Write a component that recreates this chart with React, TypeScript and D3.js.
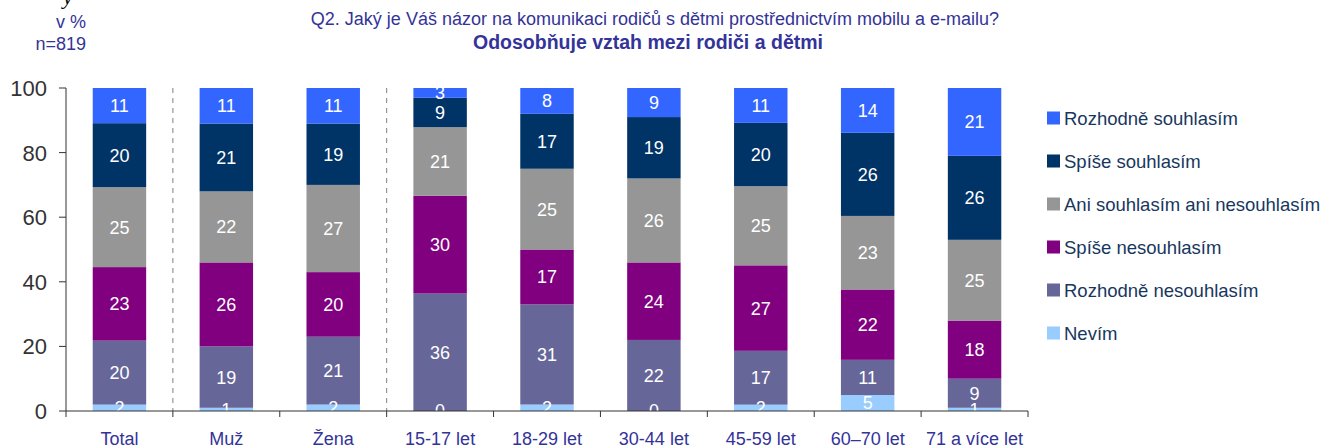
import React from "react";
import * as d3 from "d3";

const categories = ["Total", "Muž", "Žena", "15-17 let", "18-29 let", "30-44 let", "45-59 let", "60–70 let", "71 a více let"];
const seriesNames = ["Nevím", "Rozhodně nesouhlasím", "Spíše nesouhlasím", "Ani souhlasím ani nesouhlasím", "Spíše souhlasím", "Rozhodně souhlasím"];
const nevim = [2, 1, 2, 0, 2, 0, 2, 5, 1];
const rozhodneNesouhlasim = [20, 19, 21, 36, 31, 22, 17, 11, 9];
const spiseNesouhlasim = [23, 26, 20, 30, 17, 24, 27, 22, 18];
const ani = [25, 22, 27, 21, 25, 26, 25, 23, 25];
const spiseSouhlasim = [20, 21, 19, 9, 17, 19, 20, 26, 26];
const rozhodneSouhlasim = [11, 11, 11, 3, 8, 9, 11, 14, 21];
const yTicks = [0, 20, 40, 60, 80, 100];
const colors = ["#99CCFF", "#666699", "#800080", "#969696", "#003366", "#3366FF"];

const W = 1325, H = 448;
const X0 = 66, X1 = 1028, Y0 = 411, Y1 = 88;

export default function App() {
  const seriesVals = [nevim, rozhodneNesouhlasim, spiseNesouhlasim, ani, spiseSouhlasim, rozhodneSouhlasim];
  const rows = categories.map((c, i) => {
    const r: any = { cat: c };
    seriesNames.forEach((s, k) => (r[s] = seriesVals[k][i]));
    return r;
  });
  const stack = d3.stack<any>().keys(seriesNames).offset(d3.stackOffsetExpand);
  const stacked = stack(rows);
  const x = d3.scaleBand().domain(categories).range([X0, X1]).paddingInner(0.5).paddingOuter(0.25);
  const y = d3.scaleLinear().domain([0, 1]).range([Y0, Y1]);
  const yAx = d3.scaleLinear().domain([0, 100]).range([Y0, Y1]);
  const step = x.step();
  const boundaries = d3.range(categories.length + 1).map((i) => X0 + i * step);
  const font = "'Liberation Sans', Arial, sans-serif";
  const legendY = [118, 161, 204, 247, 290, 333];
  const legendOrder = [5, 4, 3, 2, 1, 0];

  return (
    <svg width={W} height={H} style={{ position: "absolute", left: 0, top: 0 }} fontFamily={font}>
      <defs>
        <clipPath id="plot">
          <rect x={X0} y={Y1 - 5} width={X1 - X0} height={Y0 - Y1 + 5} />
        </clipPath>
      </defs>
      <rect width={W} height={H} fill="#fff" />
      <text x={63} y={4} fontFamily="serif" fontStyle="italic" fontSize={22} fill="#000">y</text>
      <text x={86} y={28} textAnchor="end" fontSize={18} fill="#333399">v %</text>
      <text x={86} y={50} textAnchor="end" fontSize={18} fill="#333399">n=819</text>
      <text x={655} y={25} textAnchor="middle" fontSize={18} fill="#333399">
        Q2. Jaký je Váš názor na komunikaci rodičů s dětmi prostřednictvím mobilu a e-mailu?
      </text>
      <text x={648} y={49} textAnchor="middle" fontSize={19.5} fontWeight="bold" fill="#333399">
        Odosobňuje vztah mezi rodiči a dětmi
      </text>

      {[1, 3].map((b) => (
        <line key={b} x1={boundaries[b]} x2={boundaries[b]} y1={Y1} y2={Y0} stroke="#808080" strokeWidth={1} strokeDasharray="5,5" />
      ))}

      {stacked.map((layer, k) => (
        <g key={layer.key} fill={colors[k]}>
          {layer.map((d, i) => (
            <rect key={i} x={x(categories[i])} width={x.bandwidth()} y={y(d[1])} height={Math.max(0, y(d[0]) - y(d[1]))} />
          ))}
        </g>
      ))}
      <g clipPath="url(#plot)">
        {stacked.map((layer, k) =>
          layer.map((d, i) => (
            <text key={k + "-" + i} x={(x(categories[i]) as number) + x.bandwidth() / 2} y={(y(d[0]) + y(d[1])) / 2} dy="0.36em" textAnchor="middle" fontSize={18} fill="#fff">
              {seriesVals[k][i]}
            </text>
          ))
        )}
      </g>

      <line x1={X0} x2={X0} y1={Y1} y2={Y0} stroke="#333" strokeWidth={1} />
      {yTicks.map((t) => (
        <g key={t}>
          <line x1={X0 - 7} x2={X0} y1={yAx(t)} y2={yAx(t)} stroke="#333" />
          <text x={47} y={yAx(t)} dy="0.36em" textAnchor="end" fontSize={22} fill="#333">{t}</text>
        </g>
      ))}
      <line x1={X0} x2={X1} y1={Y0} y2={Y0} stroke="#333" strokeWidth={1} />
      {boundaries.map((b, i) => (
        <line key={i} x1={b} x2={b} y1={Y0} y2={Y0 + 6} stroke="#333" />
      ))}
      {categories.map((c) => (
        <text key={c} x={(x(c) as number) + x.bandwidth() / 2} y={445} textAnchor="middle" fontSize={18} fill="#333399">{c}</text>
      ))}

      {legendOrder.map((k, j) => (
        <g key={k}>
          <rect x={1047} y={legendY[j] - 6.5} width={13} height={13} fill={colors[k]} />
          <text x={1064} y={legendY[j]} dy="0.36em" fontSize={18.5} fill="#17375E">{seriesNames[k]}</text>
        </g>
      ))}
    </svg>
  );
}
